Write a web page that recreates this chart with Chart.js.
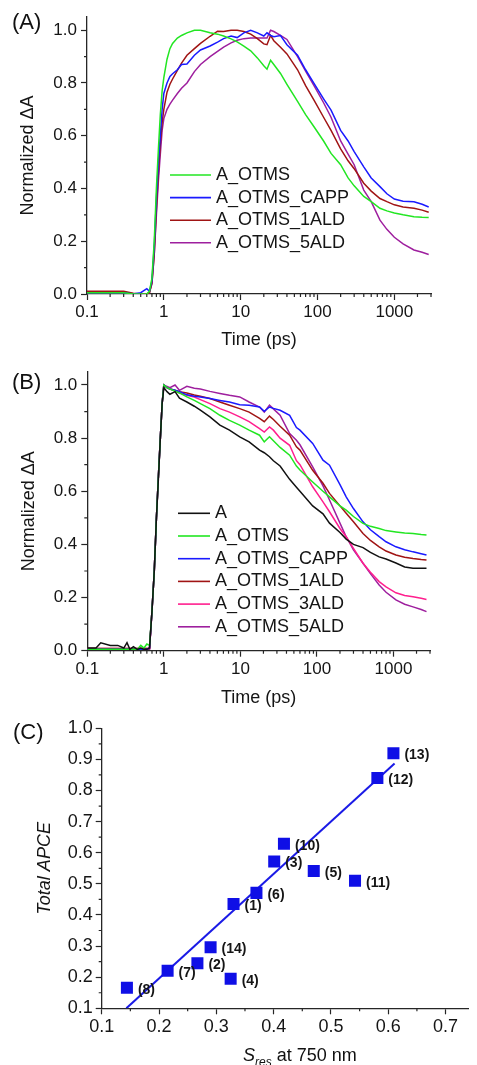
<!DOCTYPE html>
<html><head><meta charset="utf-8">
<script src="https://cdn.jsdelivr.net/npm/chart.js@4.4.0/dist/chart.umd.min.js"></script>
<style>
html,body{margin:0;padding:0;background:#fff;width:477px;height:1065px;overflow:hidden;position:relative;font-family:"Liberation Sans",Arial,sans-serif;color:#111}
canvas{position:absolute;left:0}
.plabel{position:absolute;font-size:22px;line-height:22px;white-space:nowrap}
#xtC{position:absolute;left:243px;top:1046px;font-size:18px;line-height:18px;white-space:nowrap}
#xtC sub{font-size:12px;vertical-align:-5px;line-height:0}
</style></head><body>
<canvas id="cA" width="477" height="352" style="top:0px"></canvas>
<canvas id="cB" width="477" height="362" style="top:350px"></canvas>
<canvas id="cC" width="477" height="360" style="top:705px"></canvas>
<div class="plabel" style="left:12px;top:11px">(A)</div>
<div class="plabel" style="left:12px;top:371px">(B)</div>
<div class="plabel" style="left:13px;top:721px">(C)</div>
<div id="xtC"><i>S</i><sub><i>res</i></sub> at 750 nm</div>
<script>
// ---------- Panel A data ----------
const tA = [0.1,0.2,0.3,0.4,0.5,0.6,0.65,0.7,0.75,0.8,0.85,0.9,0.95,1.0,1.1,1.2,1.3,1.5,1.7,2,2.5,3,4,5,6,7.5,9,11,13.5,16.5,20,22,24.5,27,33,40,55,70,90,120,150,200,250,300,400,500,650,800,1000,1300,1800,2300,2800];
const A_OTMS_a = [0.005,0.005,0.005,0.0,0.0,0.0, 0.01,0.06,0.2,0.4,0.55,0.68,0.77, 0.82,0.89,0.93,0.95,0.97,0.98, 0.99,1.0,1.0,0.99,0.985,0.978, 0.967,0.956,0.94,0.922,0.895, 0.865,0.852,0.886,0.87,0.836, 0.795,0.73,0.68,0.634,0.58, 0.533,0.49,0.44,0.41,0.37, 0.35,0.325,0.315,0.307,0.30, 0.293,0.291,0.29];
const A_OTMS_CAPP_a = [0.005,0.005,0.005,0.0,0.005,0.02, 0.01,0.05,0.18,0.36,0.5,0.6,0.7, 0.76,0.8,0.825,0.835,0.85,0.87, 0.872,0.905,0.925,0.94,0.955,0.968, 0.978,0.972,0.99,1.0,0.99, 0.978,0.99,0.98,0.975,0.98, 0.945,0.905,0.85,0.798,0.74, 0.697,0.62,0.58,0.54,0.482, 0.44,0.407,0.38,0.36,0.352, 0.35,0.34,0.33];
const A_OTMS_1ALD_a = [0.01,0.01,0.01,0.003,0.0,0.0, 0.005,0.04,0.15,0.32,0.46,0.57,0.65, 0.70,0.765,0.795,0.815,0.848,0.875, 0.905,0.93,0.95,0.977,0.996,0.995, 1.0,1.0,0.995,0.985,0.968, 0.948,0.945,0.98,0.96,0.935, 0.91,0.85,0.79,0.735,0.67, 0.62,0.55,0.505,0.475,0.42, 0.39,0.362,0.35,0.338,0.33, 0.325,0.318,0.31];
const A_OTMS_5ALD_a = [0.005,0.005,0.005,0.0,0.0,0.0, 0.005,0.04,0.15,0.3,0.43,0.53,0.62, 0.665,0.70,0.72,0.735,0.76,0.78, 0.80,0.843,0.87,0.90,0.92,0.936, 0.952,0.962,0.968,0.97,0.97, 0.97,0.97,1.0,0.995,0.98, 0.965,0.90,0.845,0.79,0.725, 0.67,0.58,0.53,0.49,0.394, 0.35,0.28,0.245,0.215,0.19, 0.167,0.158,0.15];

// ---------- Panel B data ----------
const tB = [0.1,0.13,0.15,0.2,0.25,0.3,0.33,0.36,0.4,0.45,0.5,0.55,0.6,0.65,0.7,0.75,0.8,0.85,0.9,0.95,1.0,1.1,1.2,1.4,1.6,2,2.5,3,4,5.4,7.2,9.8,13,17.8,20.5,24,27,33,44,54,60,88,120,146,200,241,300,400,500,650,800,1076,1400,1800,2300,2700];
const A_b = [0.01,0.01,0.03,0.02,0.02,0.01,0.03,0.005,0.015,0.005, 0.01,0.005,0.005,0.01,0.15,0.3,0.5,0.65,0.8,0.93, 0.99,0.975,0.965,0.975,0.95, 0.936,0.92,0.905,0.88,0.849, 0.83,0.805,0.786,0.755,0.745, 0.73,0.715,0.695,0.645,0.615, 0.60,0.545,0.515,0.48,0.445, 0.42,0.40,0.388,0.37,0.353, 0.345,0.33,0.315,0.31,0.31,0.31];
const A_OTMS_b = [0.005,0.005,0.005,0.005,0.005,0.005,0.005,0.005,0.005,0.005, 0.02,0.01,0.025,0.02,0.15,0.3,0.5,0.66,0.8,0.93, 1.0,0.99,0.985,0.977,0.97, 0.955,0.942,0.93,0.911,0.886, 0.867,0.849,0.83,0.811,0.786, 0.805,0.79,0.765,0.736,0.695, 0.68,0.635,0.60,0.579,0.545, 0.529,0.505,0.479,0.468,0.46, 0.452,0.447,0.443,0.441,0.437,0.435];
const A_OTMS_CAPP_b = [0.005,0.005,0.005,0.005,0.005,0.005,0.005,0.005,0.005,0.005, 0.005,0.005,0.005,0.01,0.15,0.3,0.5,0.66,0.8,0.93, 1.0,0.99,0.985,0.98,0.975, 0.963,0.958,0.955,0.949,0.942, 0.936,0.926,0.924,0.917,0.901, 0.917,0.912,0.905,0.886,0.84, 0.83,0.78,0.717,0.698,0.625, 0.579,0.535,0.485,0.455,0.429, 0.41,0.391,0.38,0.372,0.365,0.36];
const A_OTMS_1ALD_b = [0.008,0.008,0.008,0.008,0.008,0.008,0.008,0.008,0.008,0.008, 0.008,0.008,0.008,0.008,0.15,0.3,0.5,0.66,0.8,0.93, 1.0,0.99,0.985,0.98,0.975, 0.97,0.962,0.958,0.949,0.936, 0.924,0.911,0.898,0.874,0.862, 0.883,0.87,0.845,0.811,0.767, 0.755,0.679,0.63,0.592,0.545, 0.517,0.485,0.441,0.415,0.391, 0.375,0.36,0.352,0.347,0.343,0.341];
const A_OTMS_3ALD_b = [0.008,0.008,0.008,0.008,0.008,0.008,0.008,0.008,0.008,0.008, 0.008,0.008,0.008,0.008,0.15,0.3,0.5,0.66,0.8,0.93, 1.0,0.99,0.985,0.978,0.97, 0.961,0.955,0.945,0.93,0.911, 0.898,0.88,0.862,0.836,0.823, 0.842,0.83,0.80,0.773,0.715, 0.70,0.617,0.56,0.523,0.46, 0.429,0.385,0.329,0.295,0.26, 0.24,0.218,0.208,0.203,0.197,0.193];
const A_OTMS_5ALD_b = [0.005,0.005,0.005,0.005,0.005,0.005,0.005,0.005,0.005,0.005, 0.005,0.005,0.005,0.005,0.15,0.3,0.5,0.66,0.8,0.93, 1.0,0.995,0.99,1.0,0.98, 0.995,0.988,0.985,0.976,0.968, 0.961,0.955,0.936,0.917,0.898, 0.924,0.91,0.886,0.817,0.792, 0.775,0.692,0.62,0.567,0.48, 0.429,0.38,0.329,0.29,0.247, 0.22,0.191,0.175,0.165,0.155,0.147];

// ---------- Panel C data ----------
const sampleLabels = ['(1)','(2)','(3)','(4)','(5)','(6)','(7)','(8)','(10)','(11)','(12)','(13)','(14)'];
const sRes = [0.330,0.267,0.401,0.325,0.470,0.370,0.215,0.144,0.418,0.542,0.581,0.609,0.290];
const totalAPCE = [0.435,0.245,0.572,0.195,0.541,0.471,0.221,0.166,0.629,0.510,0.840,0.920,0.296];
const fitX = [0.143,0.611];
const fitY = [0.100,0.887];

// ---------- ticks ----------
const xTicksLog = [0.1,1,10,100,1000];
const xTickLabelsLog = ['0.1','1','10','100','1000'];
const xMinorLog = [0.2,0.3,0.4,0.5,0.6,0.7,0.8,0.9,2,3,4,5,6,7,8,9,20,30,40,50,60,70,80,90,200,300,400,500,600,700,800,900,2000,3000];
const yTicksAB = [0,0.2,0.4,0.6,0.8,1.0];
const yMinorAB = [0.1,0.3,0.5,0.7,0.9];
const xTicksC = [0.1,0.2,0.3,0.4,0.5,0.6,0.7];
const xMinorC = [0.15,0.25,0.35,0.45,0.55,0.65];
const yTicksC = [0.1,0.2,0.3,0.4,0.5,0.6,0.7,0.8,0.9,1.0];
const yMinorC = [0.15,0.25,0.35,0.45,0.55,0.65,0.75,0.85,0.95];

const axisColor = '#262626';
const textColor = '#151515';
const FONT = '"Liberation Sans", Arial, sans-serif';
Chart.defaults.font.family = FONT;
Chart.defaults.color = textColor;

const COL = {
  black: '#111111', green: '#22e622', blue: '#1a1aff', red: '#a01414', pink: '#ff1f8e', purple: '#9e1f9e'
};

function pts(xs, ys) { return xs.map((x, i) => ({ x: x, y: ys[i] })); }

const extras = {
  id: 'extras',
  afterDatasetsDraw(chart, args, o) {
    const ctx = chart.ctx, xs = chart.scales.x, ys = chart.scales.y, ca = chart.chartArea;
    ctx.save();
    ctx.strokeStyle = axisColor; ctx.lineWidth = 1.2;
    ctx.beginPath();
    (o.minorX || []).forEach(v => { const p = xs.getPixelForValue(v); ctx.moveTo(p, ca.bottom); ctx.lineTo(p, ca.bottom + o.minorLen); });
    (o.minorY || []).forEach(v => { const p = ys.getPixelForValue(v); ctx.moveTo(ca.left - o.minorLen, p); ctx.lineTo(ca.left, p); });
    ctx.stroke();
    if (o.legend) {
      const lg = o.legend;
      ctx.font = lg.size + 'px ' + FONT;
      ctx.textBaseline = 'middle'; ctx.textAlign = 'left';
      let row = 0;
      chart.data.datasets.forEach(ds => {
        const y = lg.y0 + row * lg.dy; row++;
        ctx.strokeStyle = ds.borderColor; ctx.lineWidth = 1.6;
        ctx.beginPath(); ctx.moveTo(lg.x0, y); ctx.lineTo(lg.x1, y); ctx.stroke();
        ctx.fillStyle = textColor; ctx.fillText(ds.label, lg.tx, y);
      });
    }
    if (o.pointLabels) {
      const pl = o.pointLabels;
      ctx.font = 'bold ' + pl.size + 'px ' + FONT;
      ctx.textBaseline = 'middle'; ctx.textAlign = 'left'; ctx.fillStyle = textColor;
      pl.labels.forEach((t, i) => {
        ctx.fillText(t, xs.getPixelForValue(pl.xs[i]) + pl.dx, ys.getPixelForValue(pl.ys[i]) + pl.dy);
      });
    }
    ctx.restore();
  }
};

function gridOpts() {
  return { display: true, drawOnChartArea: false, drawTicks: true, tickLength: 6, tickColor: axisColor, tickWidth: 1.2 };
}
function borderOpts() { return { display: true, color: axisColor, width: 1.3 }; }

function logPanel(id, datasets, cfg) {
  return new Chart(document.getElementById(id), {
    type: 'line',
    data: { datasets: datasets },
    options: {
      responsive: false, animation: false, events: [],
      layout: { padding: { top: cfg.top, right: cfg.right, left: 0, bottom: 0 } },
      elements: { point: { radius: 0 }, line: { borderWidth: 1.5, tension: 0 } },
      plugins: {
        legend: { display: false }, tooltip: { enabled: false },
        extras: { minorX: xMinorLog, minorY: yMinorAB, minorLen: 3, legend: cfg.legend }
      },
      scales: {
        x: {
          type: 'logarithmic', min: 0.1, max: 3000,
          afterFit: s => { s.height = cfg.xh; },
          afterBuildTicks: s => { s.ticks = xTicksLog.map(v => ({ value: v })); },
          ticks: { callback: (v, i) => xTickLabelsLog[i], font: { size: 17 }, color: textColor, padding: 2, maxRotation: 0, autoSkip: false },
          grid: gridOpts(), border: borderOpts(),
          title: { display: true, text: 'Time (ps)', font: { size: 18 }, color: textColor, padding: { top: 0, bottom: cfg.xtPad } }
        },
        y: {
          type: 'linear', min: 0, max: 1.05,
          afterFit: s => { s.width = cfg.yw; },
          afterBuildTicks: s => { s.ticks = yTicksAB.map(v => ({ value: v })); },
          ticks: { callback: v => Number(v).toFixed(1), font: { size: 17 }, color: textColor, padding: 4, autoSkip: false },
          grid: gridOpts(), border: borderOpts(),
          title: { display: true, text: 'Normalized \u0394A', font: { size: 18 }, color: textColor, padding: { top: cfg.ytPad, bottom: 0 } }
        }
      }
    },
    plugins: [extras]
  });
}

function ds(label, xs, ys, color) {
  return { label: label, data: pts(xs, ys), borderColor: color, backgroundColor: color, borderWidth: 1.5, pointRadius: 0, fill: false };
}

logPanel('cA', [
  ds('A_OTMS', tA, A_OTMS_a, COL.green),
  ds('A_OTMS_CAPP', tA, A_OTMS_CAPP_a, COL.blue),
  ds('A_OTMS_1ALD', tA, A_OTMS_1ALD_a, COL.red),
  ds('A_OTMS_5ALD', tA, A_OTMS_5ALD_a, COL.purple)
], { top: 17, right: 46, xh: 58, yw: 87, xtPad: 1.2, ytPad: 17.7,
     legend: { x0: 170, x1: 211, tx: 216, y0: 175, dy: 22.6, size: 18 } });

logPanel('cB', [
  ds('A', tB, A_b, COL.black),
  ds('A_OTMS', tB, A_OTMS_b, COL.green),
  ds('A_OTMS_CAPP', tB, A_OTMS_CAPP_b, COL.blue),
  ds('A_OTMS_1ALD', tB, A_OTMS_1ALD_b, COL.red),
  ds('A_OTMS_3ALD', tB, A_OTMS_3ALD_b, COL.pink),
  ds('A_OTMS_5ALD', tB, A_OTMS_5ALD_b, COL.purple)
], { top: 21.7, right: 47, xh: 61.3, yw: 87.3, xtPad: 3.2, ytPad: 18.2,
     legend: { x0: 178, x1: 210, tx: 215, y0: 163.3, dy: 22.7, size: 18 } });

new Chart(document.getElementById('cC'), {
  type: 'scatter',
  data: {
    datasets: [
      { label: 'samples', data: pts(sRes, totalAPCE), pointStyle: 'rect', pointRadius: 8.5, backgroundColor: '#0f0fe6', borderWidth: 0 },
      { type: 'line', label: 'fit', data: pts(fitX, fitY), borderColor: '#1a1ae6', borderWidth: 2, pointRadius: 0, showLine: true, fill: false }
    ]
  },
  options: {
    responsive: false, animation: false, events: [],
    layout: { padding: { top: 23.3, right: 0, left: 0, bottom: 0 } },
    plugins: {
      legend: { display: false }, tooltip: { enabled: false },
      extras: { minorX: xMinorC, minorY: yMinorC, minorLen: 3,
        pointLabels: { labels: sampleLabels, xs: sRes, ys: totalAPCE, dx: 11, dy: 2, size: 14 } }
    },
    scales: {
      x: {
        type: 'linear', min: 0.1, max: 0.74,
        afterFit: s => { s.height = 56.7; },
        afterBuildTicks: s => { s.ticks = xTicksC.map(v => ({ value: v })); },
        ticks: { callback: v => Number(v).toFixed(1), font: { size: 18 }, color: textColor, padding: 2, maxRotation: 0, autoSkip: false },
        grid: gridOpts(), border: borderOpts()
      },
      y: {
        type: 'linear', min: 0.1, max: 1.0,
        afterFit: s => { s.width = 101.7; },
        afterBuildTicks: s => { s.ticks = yTicksC.map(v => ({ value: v })); },
        ticks: { callback: v => Number(v).toFixed(1), font: { size: 18 }, color: textColor, padding: 3, autoSkip: false },
        grid: gridOpts(), border: borderOpts(),
        title: { display: true, text: 'Total APCE', font: { size: 18, style: 'italic' }, color: textColor, padding: { top: 34.2, bottom: 0 } }
      }
    }
  },
  plugins: [extras]
});
</script>
</body></html>
